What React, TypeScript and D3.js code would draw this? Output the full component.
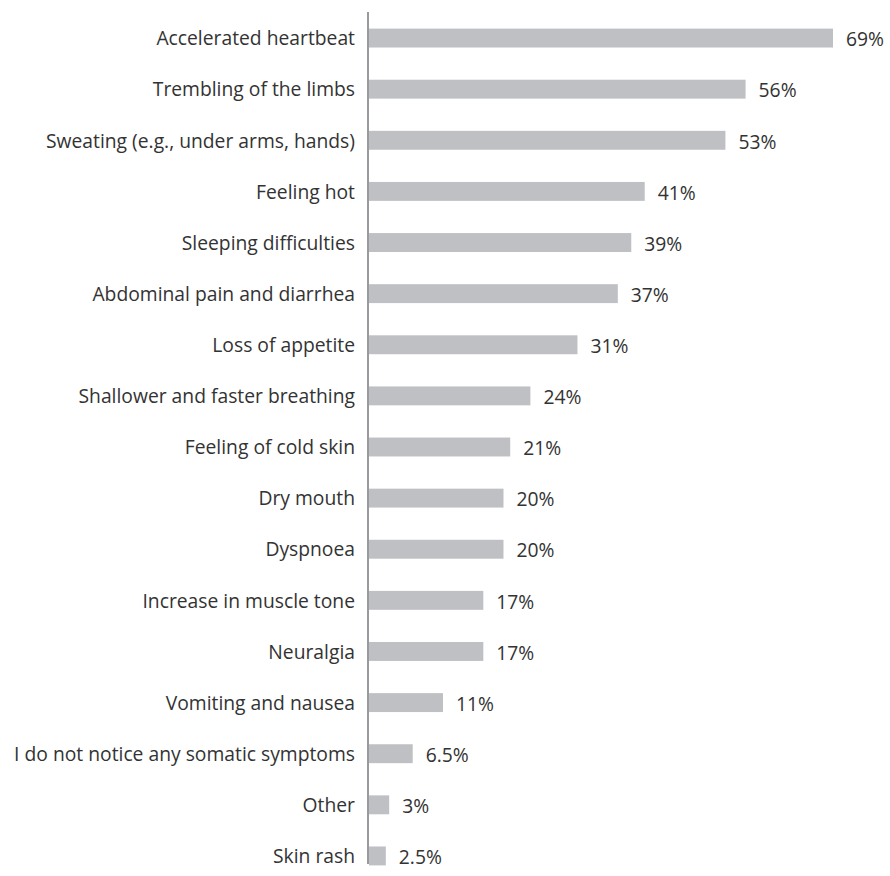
import React from "react";
import * as d3 from "d3";

const categories = [
  "Accelerated heartbeat",
  "Trembling of the limbs",
  "Sweating (e.g., under arms, hands)",
  "Feeling hot",
  "Sleeping difficulties",
  "Abdominal pain and diarrhea",
  "Loss of appetite",
  "Shallower and faster breathing",
  "Feeling of cold skin",
  "Dry mouth",
  "Dyspnoea",
  "Increase in muscle tone",
  "Neuralgia",
  "Vomiting and nausea",
  "I do not notice any somatic symptoms",
  "Other",
  "Skin rash",
];
const values = [69, 56, 53, 41, 39, 37, 31, 24, 21, 20, 20, 17, 17, 11, 6.5, 3, 2.5];
const valueLabels = ["69%", "56%", "53%", "41%", "39%", "37%", "31%", "24%", "21%", "20%", "20%", "17%", "17%", "11%", "6.5%", "3%", "2.5%"];

const W = 890;
const H = 876;
const axisX = 368;
const font = "'Open Sans', sans-serif";

export default function App() {
  const x = d3.scaleLinear().domain([0, 69]).range([axisX + 1, 833]);
  const y = d3
    .scaleBand()
    .domain(categories)
    .range([12.5, 881.5])
    .paddingInner(0.63)
    .paddingOuter(0.315);
  return (
    <svg
      width={W}
      height={H}
      style={{ position: "absolute", left: 0, top: 0, background: "#fff" }}
    >
      {categories.map((c, i) => {
        const yy = y(c)!;
        const cy = yy + y.bandwidth() / 2;
        return (
          <g key={c}>
            <rect x={x(0)} y={yy} width={x(values[i]) - x(0)} height={y.bandwidth()} fill="#bfc0c3" />
            <text
              x={355}
              y={cy + 0.5}
              dy="0.35em"
              textAnchor="end"
              fontFamily={font}
              fontSize={19.3}
              fill="#333333"
            >
              {c}
            </text>
            <text
              x={x(values[i]) + 13}
              y={cy + 1.5}
              dy="0.35em"
              textAnchor="start"
              fontFamily={font}
              fontSize={19.3}
              fill="#333333"
            >
              {valueLabels[i]}
            </text>
          </g>
        );
      })}
      <line x1={axisX} x2={axisX} y1={12} y2={864} stroke="#9a9a9e" strokeWidth={2} />
    </svg>
  );
}
